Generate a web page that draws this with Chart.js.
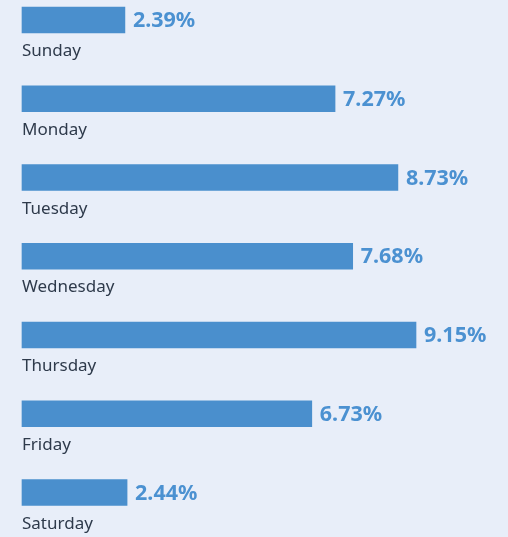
<!DOCTYPE html>
<html>
<head>
<meta charset="utf-8">
<script src="https://cdn.jsdelivr.net/npm/chart.js@4"></script>
<style>
  html, body { margin: 0; padding: 0; background: #e8eef9; }
  #wrap { width: 508px; height: 537px; position: relative; }
</style>
</head>
<body>
<div id="wrap"><canvas id="graph"></canvas></div>
<script>
const days = ['Sunday', 'Monday', 'Tuesday', 'Wednesday', 'Thursday', 'Friday', 'Saturday'];
const shares = [2.39, 7.27, 8.73, 7.68, 9.15, 6.73, 2.44];

// draws the day name under each bar and the value to its right
const barLabels = {
    id: 'barLabels',
    afterDatasetsDraw(chart) {
        const ctx = chart.ctx;
        const meta = chart.getDatasetMeta(0);
        ctx.save();
        meta.data.forEach((bar, i) => {
            const half = bar.height / 2;
            ctx.textBaseline = 'middle';
            ctx.textAlign = 'left';
            ctx.fillStyle = '#4b91d1';
            ctx.font = 'bold 21.5px "Noto Sans"';
            ctx.fillText(shares[i].toFixed(2) + '%', bar.x + 8, bar.y + 1);
            ctx.fillStyle = '#2e3a4b';
            ctx.font = '17px "Noto Sans"';
            ctx.textBaseline = 'alphabetic';
            ctx.fillText(days[i], bar.base, bar.y + half + 23);
        });
        ctx.restore();
    }
};

const chart = new Chart(document.getElementById('graph'), {
    type: 'bar',
    data: {
        labels: days,
        datasets: [{
            data: shares,
            backgroundColor: '#4a8fcd',
            barThickness: 26,
            clip: false
        }]
    },
    options: {
        indexAxis: 'y',
        responsive: true,
        maintainAspectRatio: false,
        animation: false,
        layout: {padding: {left: 22, right: 55.4, top: 20, bottom: 44.5}},
        plugins: {
            legend: {display: false},
            tooltip: {enabled: false}
        },
        scales: {
            x: {min: 0, max: 10, display: false},
            y: {display: false, offset: false}
        }
    },
    plugins: [barLabels]
});
</script>
</body>
</html>
